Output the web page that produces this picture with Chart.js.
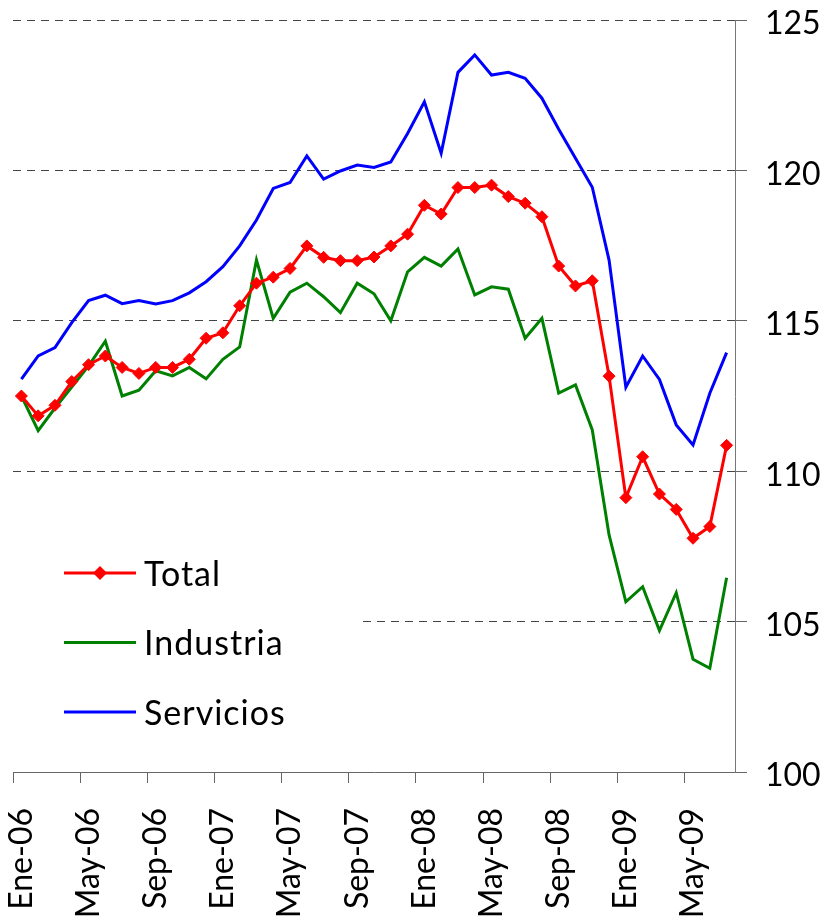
<!DOCTYPE html>
<html>
<head>
<meta charset="utf-8">
<script src="https://cdn.jsdelivr.net/npm/chart.js@4"></script>
<style>
  body { margin: 0; background: #fff; }
</style>
</head>
<body>
<canvas id="chart" width="828" height="922"></canvas>
<script>
const months = [
    "Ene-06", "Feb-06", "Mar-06", "Abr-06", "May-06", "Jun-06", "Jul-06", "Ago-06", "Sep-06", "Oct-06", "Nov-06", "Dic-06",
    "Ene-07", "Feb-07", "Mar-07", "Abr-07", "May-07", "Jun-07", "Jul-07", "Ago-07", "Sep-07", "Oct-07", "Nov-07", "Dic-07",
    "Ene-08", "Feb-08", "Mar-08", "Abr-08", "May-08", "Jun-08", "Jul-08", "Ago-08", "Sep-08", "Oct-08", "Nov-08", "Dic-08",
    "Ene-09", "Feb-09", "Mar-09", "Abr-09", "May-09", "Jun-09", "Jul-09"
]

const total = [
    112.50, 111.84, 112.19, 112.98, 113.54, 113.83, 113.45, 113.25, 113.45, 113.45, 113.72, 114.42,
    114.60, 115.50, 116.25, 116.45, 116.74, 117.49, 117.11, 117.00, 117.00, 117.12, 117.49, 117.88,
    118.84, 118.55, 119.43, 119.43, 119.51, 119.13, 118.91, 118.46, 116.82, 116.16, 116.33, 113.16,
    109.12, 110.48, 109.24, 108.73, 107.77, 108.16, 110.86
]

const industria = [
    112.50, 111.35, 112.10, 112.80, 113.50, 114.32, 112.50, 112.69, 113.34, 113.17, 113.45, 113.07,
    113.72, 114.13, 117.02, 115.08, 115.95, 116.25, 115.80, 115.27, 116.25, 115.90, 115.00, 116.63,
    117.11, 116.82, 117.39, 115.86, 116.13, 116.05, 114.42, 115.08, 112.60, 112.87, 111.37, 107.88,
    105.66, 106.16, 104.70, 105.96, 103.75, 103.45, 106.46
]

const servicios = [
    113.06, 113.83, 114.11, 114.94, 115.67, 115.85, 115.57, 115.67, 115.56, 115.67, 115.93, 116.30,
    116.80, 117.49, 118.35, 119.40, 119.60, 120.48, 119.71, 119.98, 120.18, 120.10, 120.28, 121.23,
    122.28, 120.57, 123.26, 123.84, 123.17, 123.26, 123.06, 122.40, 121.37, 120.40, 119.44, 117.02,
    112.79, 113.83, 113.05, 111.54, 110.87, 112.59, 113.94
]

const yMin = 100
const yMax = 125
const yStep = 5

const FONT = "Lato, 'Open Sans', sans-serif"

// legend drawn inside the plot, lower left, on a white box
const innerLegend = {
    id: "innerLegend",
    afterDatasetsDraw(chart) {
        const ctx = chart.ctx
        ctx.save()
        ctx.fillStyle = "#fff"
        ctx.fillRect(10, 540, 352, 200)
        ctx.font = "34px " + FONT
        ctx.letterSpacing = "1px"
        ctx.textBaseline = "alphabetic"
        chart.data.datasets.forEach((ds, i) => {
            const y = 573 + i * 69.5
            ctx.strokeStyle = ds.borderColor
            ctx.lineWidth = 3
            ctx.beginPath()
            ctx.moveTo(64, y)
            ctx.lineTo(136, y)
            ctx.stroke()
            if (ds.pointRadius > 0) {
                const r = ds.pointRadius + 1
                ctx.fillStyle = ds.pointBackgroundColor
                ctx.beginPath()
                ctx.moveTo(100, y - r)
                ctx.lineTo(100 + r, y)
                ctx.lineTo(100, y + r)
                ctx.lineTo(100 - r, y)
                ctx.closePath()
                ctx.fill()
            }
            ctx.fillStyle = "#000"
            ctx.fillText(ds.label, 144, y + 12.5)
        })
        ctx.restore()
    }
}

new Chart(document.getElementById("chart"), {
    type: "line",
    data: {
        labels: months,
        datasets: [{
            label: "Total",
            data: total,
            borderColor: "#ff0000",
            backgroundColor: "#ff0000",
            pointBackgroundColor: "#ff0000",
            pointBorderColor: "#ff0000",
            borderWidth: 3,
            pointStyle: "rectRot",
            pointRadius: 6,
            pointBorderWidth: 1,
            tension: 0
        }, {
            label: "Industria",
            data: industria,
            borderColor: "#008000",
            backgroundColor: "#008000",
            borderWidth: 3,
            pointRadius: 0,
            tension: 0
        }, {
            label: "Servicios",
            data: servicios,
            borderColor: "#0000ff",
            backgroundColor: "#0000ff",
            borderWidth: 3,
            pointRadius: 0,
            tension: 0
        }]
    },
    options: {
        responsive: false,
        animation: false,
        layout: {
            padding: { left: 13, top: 20, right: 0, bottom: 0 }
        },
        plugins: {
            legend: { display: false },
            tooltip: { enabled: false }
        },
        scales: {
            x: {
                offset: true,
                afterFit: scale => {
                    scale.height = 150
                    scale.paddingLeft = 0
                    scale.paddingRight = 0
                },
                grid: {
                    offset: true,
                    drawOnChartArea: false,
                    drawTicks: true,
                    tickLength: 11,
                    tickWidth: 1,
                    tickColor: c => (c.index % 4 === 0 ? "#666" : "rgba(0,0,0,0)")
                },
                border: { display: true, color: "#666", width: 1 },
                ticks: {
                    autoSkip: false,
                    minRotation: 90,
                    maxRotation: 90,
                    padding: 25,
                    color: "#000",
                    font: { family: FONT, size: 32 },
                    callback: (val, idx) => (idx % 4 === 0 ? months[idx] : "")
                }
            },
            y: {
                position: "right",
                min: yMin,
                max: yMax,
                afterFit: scale => {
                    scale.width = 93
                    scale.paddingTop = 0
                    scale.paddingBottom = 0
                },
                grid: {
                    color: c => (c.tick && c.tick.value === yMin ? "rgba(0,0,0,0)" : "#444"),
                    lineWidth: 1,
                    tickLength: 12,
                    tickColor: "#666",
                    tickWidth: 1
                },
                border: { display: true, color: "#777", width: 1, dash: [8, 6] },
                ticks: {
                    stepSize: yStep,
                    padding: 18,
                    labelOffset: 4,
                    color: "#000",
                    font: { family: FONT, size: 32 }
                }
            }
        }
    },
    plugins: [innerLegend]
})
</script>
</body>
</html>
